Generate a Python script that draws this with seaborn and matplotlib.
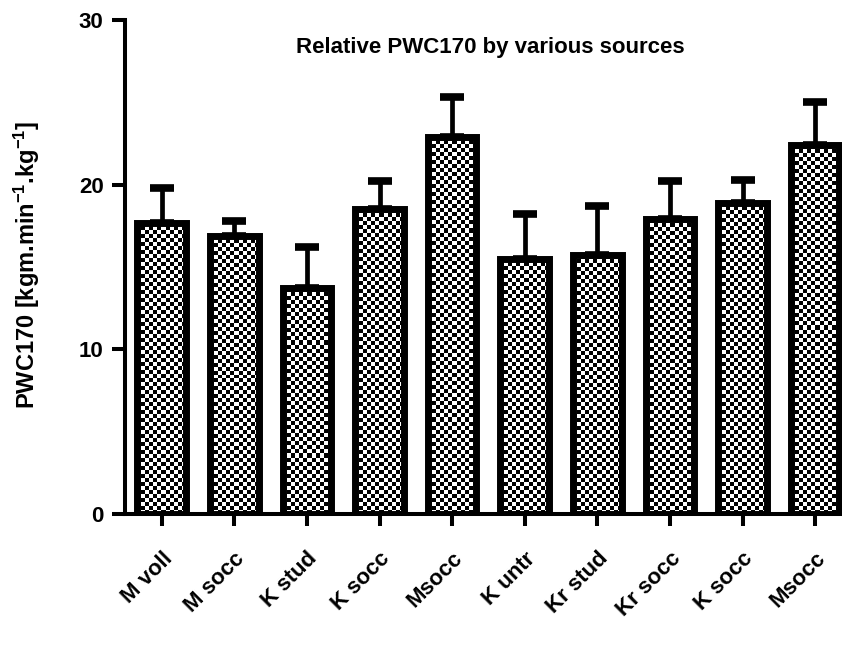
import numpy as np
import pandas as pd
import seaborn as sns
import matplotlib.pyplot as plt

groups = ["M voll", "M socc", "K stud", "K socc", "Msocc",
          "K untr", "Kr stud", "Kr socc", "K socc", "Msocc"]
pwc = [17.7, 16.9, 13.7, 18.5, 22.9, 15.5, 15.7, 17.9, 18.9, 22.4]
sd = [2.1, 0.9, 2.5, 1.7, 2.4, 2.7, 3.0, 2.3, 1.4, 2.6]

df = pd.DataFrame({"pos": range(len(groups)), "pwc": pwc})

sns.set_style("ticks")
plt.rcParams["font.family"] = ["Liberation Sans", "DejaVu Sans"]
plt.rcParams["font.weight"] = "bold"
plt.rcParams["mathtext.default"] = "regular"
for key in ["text.color", "axes.labelcolor", "xtick.color", "ytick.color",
            "axes.edgecolor"]:
    plt.rcParams[key] = "black"

W, H = 842, 650
fig = plt.figure(figsize=(W / 100, H / 100), dpi=100)
ax = fig.add_axes([125 / W, 1 - 514 / H, (W - 125) / W, (514 - 20) / H])

sns.barplot(data=df, x="pos", y="pwc", color="white", width=0.67,
            edgecolor="black", linewidth=5, errorbar=None, ax=ax)
ax.errorbar(df["pos"], pwc, yerr=[np.zeros(len(sd)), sd], fmt="none",
            ecolor="black", elinewidth=3.4, capsize=8.5, capthick=5.5, zorder=2)

xlim = (-0.506, 9.37)
ax.set_xlim(*xlim)
ax.set_ylim(0, 30)

# checkerboard fill, clipped to each bar
px_x = (W - 125) / (xlim[1] - xlim[0])
px_y = (514 - 20) / 30
for patch in ax.patches:
    x0, y0 = patch.get_x(), patch.get_y()
    w, h = patch.get_width(), patch.get_height()
    nx = max(1, int(round(w * px_x / 4)))
    ny = max(1, int(round(h * px_y / 4)))
    checker = np.indices((ny, nx)).sum(axis=0) % 2
    im = ax.imshow(checker, cmap="gray", extent=(x0, x0 + w, y0, y0 + h),
                   origin="lower", interpolation="nearest", aspect="auto",
                   zorder=3)
    im.set_clip_path(patch)
    patch.set_facecolor("none")
    patch.set_zorder(4)

ax.set_xlim(*xlim)
ax.set_ylim(0, 30)

sns.despine(ax=ax)
for side in ["left", "bottom"]:
    ax.spines[side].set_linewidth(2.9)

ax.set_yticks([0, 10, 20, 30])
ax.tick_params(axis="y", length=9.4, width=2.9, labelsize=16, pad=6)
ax.tick_params(axis="x", length=8.6, width=2.9, labelsize=16, pad=16)
ax.set_xticks(range(len(groups)))
ax.set_xticklabels(groups, rotation=45, ha="right", rotation_mode="anchor",
                   fontweight="bold")
for lab in ax.get_yticklabels():
    lab.set_fontweight("bold")

ax.set_xlabel("")
ax.set_ylabel("PWC170 [kgm.min$^{-1}$.kg$^{-1}$]", fontsize=17, fontweight="bold")
ax.yaxis.set_label_coords(-0.116, 0.504)

ax.text(0.509, 0.945, "Relative PWC170 by various sources", transform=ax.transAxes,
        ha="center", va="center", fontsize=16, fontweight="bold")

fig.savefig("out.png", dpi=100)
